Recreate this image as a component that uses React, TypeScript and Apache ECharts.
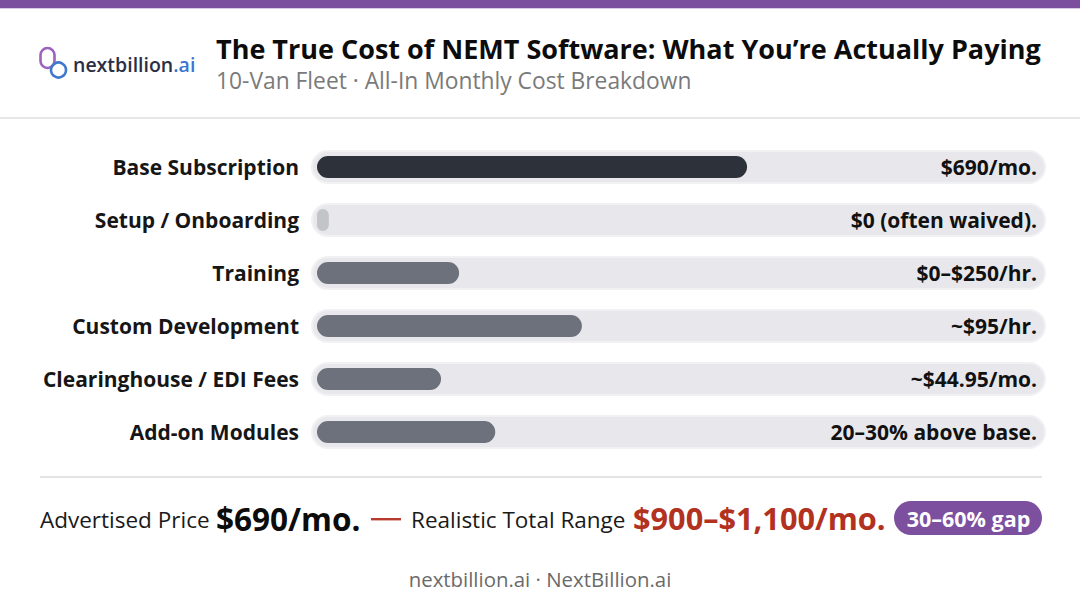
import React, { useEffect, useRef } from "react";
import * as echarts from "echarts";

const categories = [
  "Base Subscription",
  "Setup / Onboarding",
  "Training",
  "Custom Development",
  "Clearinghouse / EDI Fees",
  "Add-on Modules",
];
// bar lengths, in the chart's relative cost scale (base = 690)
const barValues = [690, 19, 228, 425, 199, 286];
const valueLabels = [
  "$690/mo.",
  "$0 (often waived).",
  "$0–$250/hr.",
  "~$95/hr.",
  "~$44.95/mo.",
  "20–30% above base.",
];
const barColors = ["#2d3139", "#c3c4c8", "#6c717b", "#6c717b", "#6c717b", "#6c717b"];
const scaleMax = 1160;

const titleText = "The True Cost of NEMT Software: What You’re Actually Paying";
const subtitleText = "10-Van Fleet · All-In Monthly Cost Breakdown";
const footerText = "nextbillion.ai · NextBillion.ai";

const FONT = "'Open Sans', 'Noto Sans', sans-serif";

export default function App() {
  const ref = useRef<HTMLDivElement>(null);
  useEffect(() => {
    if (!ref.current) return;
    const chart = echarts.init(ref.current, null, { renderer: "svg" });
    const grid = { top: 140.5, bottom: 144.5 };
    chart.setOption({
      animation: false,
      backgroundColor: "#ffffff",
      textStyle: { fontFamily: FONT },
      grid: [
        { left: 311, right: 34, ...grid },
        { left: 317, right: 40, ...grid },
      ],
      xAxis: [
        { gridIndex: 0, type: "value", min: 0, max: 1, show: false },
        { gridIndex: 1, type: "value", min: 0, max: scaleMax, show: false },
      ],
      yAxis: [
        {
          gridIndex: 0,
          type: "category",
          inverse: true,
          data: categories,
          axisLine: { show: false },
          axisTick: { show: false },
          splitLine: { show: false },
          axisLabel: {
            margin: 12,
            fontFamily: FONT,
            fontSize: 21,
            fontWeight: "bold",
            color: "#161616",
          },
        },
        {
          gridIndex: 1,
          type: "category",
          inverse: true,
          data: categories,
          show: false,
        },
      ],
      series: [
        {
          type: "bar",
          xAxisIndex: 0,
          yAxisIndex: 0,
          data: categories.map(() => 1),
          barWidth: 34,
          silent: true,
          itemStyle: {
            color: "#e8e8ec",
            borderColor: "#f1f1f4",
            borderWidth: 2,
            borderRadius: 17,
          },
          label: {
            show: true,
            position: "insideRight",
            distance: 9,
            formatter: (p: any) => valueLabels[p.dataIndex],
            fontFamily: FONT,
            fontSize: 21,
            fontWeight: "bold",
            color: "#111111",
          },
        },
        {
          type: "bar",
          xAxisIndex: 1,
          yAxisIndex: 1,
          barWidth: 22,
          data: barValues.map((v, i) => ({
            value: v,
            itemStyle: { color: barColors[i] },
          })),
          itemStyle: { borderRadius: 11 },
        },
      ],
      graphic: [
        { type: "rect", shape: { x: 0, y: 0, width: 1080, height: 8 }, style: { fill: "#7c4f9e" } },
        { type: "rect", shape: { x: 0, y: 8, width: 1080, height: 1 }, style: { fill: "#d9c8e6" } },
        { type: "rect", shape: { x: 0, y: 117, width: 1080, height: 2 }, style: { fill: "#e6e6e8" } },
        { type: "rect", shape: { x: 40, y: 476, width: 1002, height: 2 }, style: { fill: "#e4e4e6" } },
        // logo
        {
          type: "rect",
          shape: { x: 40.5, y: 48, width: 14, height: 20, r: 7 },
          style: { fill: "none", stroke: "#9d62bd", lineWidth: 2.6 },
        },
        {
          type: "circle",
          shape: { cx: 58.5, cy: 70, r: 7.5 },
          style: { fill: "none", stroke: "#3f78cc", lineWidth: 2.6 },
        },
        {
          type: "text",
          x: 73,
          y: 64,
          style: {
            text: "nextbillion{a|.ai}",
            font: `600 19.5px ${FONT}`,
            fill: "#2b2e44",
            textVerticalAlign: "middle",
            rich: { a: { fill: "#3b74d0", font: `600 19.5px ${FONT}` } },
          },
        },
        {
          type: "text",
          x: 216,
          y: 48,
          style: {
            text: titleText,
            font: `bold 27px ${FONT}`,
            fill: "#0c0c0c",
            textVerticalAlign: "middle",
          },
        },
        {
          type: "text",
          x: 216,
          y: 80,
          style: {
            text: subtitleText,
            font: `22.8px ${FONT}`,
            fill: "#7a7a7a",
            textVerticalAlign: "middle",
          },
        },
        // summary line
        {
          type: "text",
          x: 40,
          y: 519,
          style: { text: "Advertised Price", font: `22.5px ${FONT}`, fill: "#1a1a1a", textVerticalAlign: "middle" },
        },
        {
          type: "text",
          x: 216,
          y: 518,
          style: { text: "$690/mo.", font: `bold 31.5px ${FONT}`, fill: "#0c0c0c", textVerticalAlign: "middle" },
        },
        {
          type: "rect",
          shape: { x: 371, y: 518, width: 30, height: 2.4 },
          style: { fill: "#b83a2c" },
        },
        {
          type: "text",
          x: 411,
          y: 519,
          style: { text: "Realistic Total Range", font: `22.5px ${FONT}`, fill: "#1a1a1a", textVerticalAlign: "middle" },
        },
        {
          type: "text",
          x: 633,
          y: 518,
          style: { text: "$900–$1,100/mo.", font: `bold 30.7px ${FONT}`, fill: "#b3311f", textVerticalAlign: "middle" },
        },
        {
          type: "rect",
          shape: { x: 894, y: 501, width: 148, height: 34, r: 17 },
          style: { fill: "#7d4f9f" },
        },
        {
          type: "text",
          x: 968.5,
          y: 518,
          style: {
            text: "30–60% gap",
            font: `bold 21.5px ${FONT}`,
            fill: "#ffffff",
            textAlign: "center",
            textVerticalAlign: "middle",
          },
        },
        {
          type: "text",
          x: 540,
          y: 579,
          style: {
            text: footerText,
            font: `20.4px ${FONT}`,
            fill: "#6a6a6a",
            textAlign: "center",
            textVerticalAlign: "middle",
          },
        },
      ],
    });
    return () => chart.dispose();
  }, []);
  return <div ref={ref} style={{ width: 1080, height: 603, position: "absolute", left: 0, top: 0 }} />;
}
